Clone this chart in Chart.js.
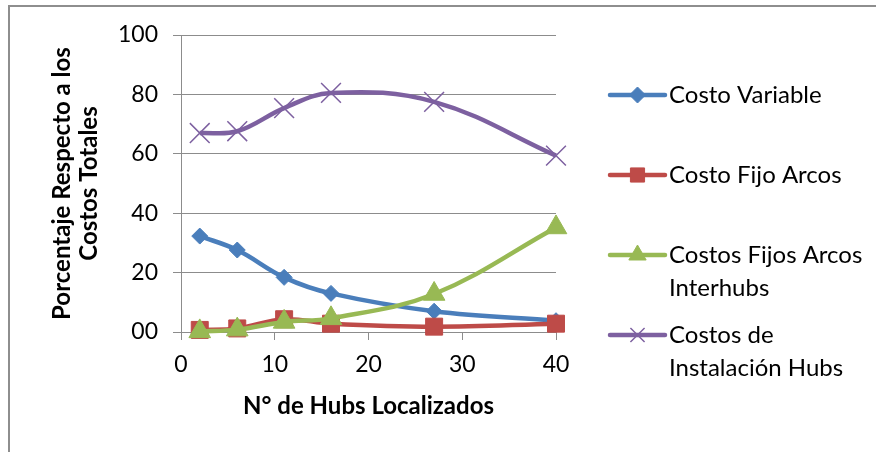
<!DOCTYPE html>
<html>
<head>
<meta charset="utf-8">
<script src="https://cdn.jsdelivr.net/npm/chart.js@4"></script>
<style>
  html, body { margin: 0; padding: 0; background: #fff; }
  #wrap { position: relative; width: 876px; height: 452px; overflow: hidden; }
  #frame {
    position: absolute; left: 8px; top: 5px; width: 900px; height: 500px;
    border-left: 2px solid #8e8e8e; border-top: 2px solid #8e8e8e;
  }
  #costChart { position: absolute; left: 0; top: 0; }
</style>
</head>
<body>
<div id="wrap">
  <div id="frame"></div>
  <canvas id="costChart" width="876" height="452"></canvas>
</div>
<script>
// numero de hubs localizados en cada corrida
const hubs = [2, 6, 11, 16, 27, 40];

// porcentaje de cada costo respecto al total
const costoVariable = [32.3, 27.6, 18.4, 13.0, 7.0, 3.8];
const costoFijoArcos = [0.7, 1.2, 4.3, 2.8, 1.8, 2.8];
const costosFijosInterhubs = [0.2, 0.8, 3.4, 4.6, 12.8, 35.2];
const costosInstalacion = [67.0, 67.6, 75.4, 80.5, 77.5, 59.4];

const seriesNames = [
  ["Costo Variable"],
  ["Costo Fijo Arcos"],
  ["Costos Fijos Arcos", "Interhubs"],
  ["Costos de", "Instalación Hubs"]
];

const FONT = "Lato";
const GRID = "#8c8c8c";

function points(values) {
  return hubs.map((h, i) => ({ x: h, y: values[i] }));
}

function serie(label, values, color, style, radius, order) {
  return {
    label: label.join(" "),
    data: points(values),
    borderColor: color,
    backgroundColor: color,
    borderWidth: 4.5,
    tension: 0.38,
    clip: false,
    pointStyle: style,
    pointRadius: radius,
    pointBorderWidth: style === "crossRot" ? 1.5 : 1,
    pointBorderColor: color,
    pointBackgroundColor: color,
    order: order
  };
}

// leyenda a la derecha: linea con marcador y texto en una o dos lineas
const sideLegend = {
  id: "sideLegend",
  afterDraw(chart) {
    const ctx = chart.ctx;
    const x0 = chart.chartArea.right + 54;
    const lineLen = 55;
    ctx.save();
    ctx.font = "24px " + FONT;
    ctx.textBaseline = "middle";
    chart.data.datasets.forEach((ds, i) => {
      const y = 95 + i * 80;
      ctx.strokeStyle = ds.borderColor;
      ctx.lineWidth = 4.5;
      ctx.lineCap = "round";
      ctx.beginPath();
      ctx.moveTo(x0, y);
      ctx.lineTo(x0 + lineLen, y);
      ctx.stroke();
      ctx.fillStyle = ds.backgroundColor;
      ctx.strokeStyle = ds.borderColor;
      ctx.lineWidth = ds.pointBorderWidth;
      ctx.lineCap = "butt";
      Chart.helpers.drawPoint(ctx, {
        pointStyle: ds.pointStyle,
        radius: Math.min(ds.pointRadius, 10),
        rotation: 0,
        borderWidth: ds.pointBorderWidth
      }, x0 + lineLen / 2, y);
      ctx.fillStyle = "#000";
      seriesNames[i].forEach((txt, k) => {
        ctx.fillText(txt, x0 + lineLen + 4, y + k * 33);
      });
    });
    ctx.restore();
  }
};

new Chart(document.getElementById("costChart"), {
  type: "line",
  data: {
    datasets: [
      serie(seriesNames[0], costoVariable, "#4a7ebb", "rectRot", 8, 4),
      serie(seriesNames[1], costoFijoArcos, "#be4b48", "rect", 12, 3),
      serie(seriesNames[2], costosFijosInterhubs, "#98b954", "triangle", 12.5, 2),
      serie(seriesNames[3], costosInstalacion, "#7d60a0", "crossRot", 14, 1)
    ]
  },
  options: {
    responsive: false,
    animation: false,
    layout: { padding: { left: 0, top: 35, right: 320, bottom: 0 } },
    plugins: {
      legend: { display: false },
      tooltip: { enabled: false }
    },
    scales: {
      x: {
        type: "linear",
        min: 0,
        max: 40,
        ticks: {
          stepSize: 10,
          padding: 11,
          color: "#000",
          font: { family: FONT, size: 23 }
        },
        grid: {
          drawOnChartArea: false,
          tickLength: 8,
          color: GRID
        },
        border: { color: GRID },
        title: {
          display: true,
          text: "N° de Hubs Localizados",
          color: "#000",
          font: { family: FONT, size: 24, weight: "bold" },
          padding: { top: 0, bottom: 31 }
        },
        afterFit(scale) { scale.height = 120; }
      },
      y: {
        min: 0,
        max: 100,
        ticks: {
          stepSize: 20,
          padding: 15,
          color: "#000",
          font: { family: FONT, size: 23 },
          callback: v => (v === 0 ? "00" : v)
        },
        grid: {
          tickLength: 8,
          color: GRID
        },
        border: { color: GRID },
        title: {
          display: true,
          text: ["Porcentaje Respecto a los", "Costos Totales"],
          color: "#000",
          font: { family: FONT, size: 24, weight: "bold", lineHeight: 1.12 },
          padding: { top: 49, bottom: 0 }
        },
        afterFit(scale) { scale.width = 181; }
      }
    }
  },
  plugins: [sideLegend]
});
</script>
</body>
</html>
